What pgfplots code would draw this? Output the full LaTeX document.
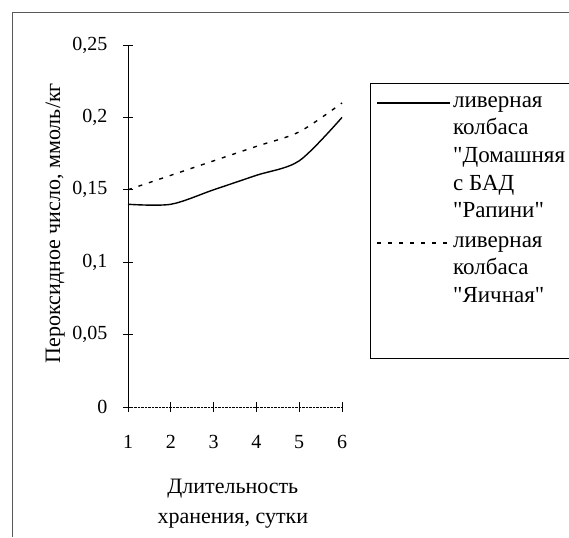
\documentclass[border=0pt]{standalone}
\usepackage{fontspec}
\setmainfont{Liberation Serif}[Ligatures=TeXOff]
\usepackage{pgfplots}
\pgfplotsset{compat=1.18}

\newcommand{\lgfont}{\fontsize{23}{27}\selectfont}

\begin{document}
\begin{tikzpicture}[x=1pt,y=1pt]
	\path[use as bounding box] (0,0) rectangle (569,537);
	\clip (0,0) rectangle (569,537);
	% outer frame (only left and top sides are visible in the scan)
	\draw[gray!70!black, line width=0.8pt] (12,0) -- (12,525) -- (580,525);
	\begin{axis}[
		at={(128pt,130pt)},
		anchor=south west,
		scale only axis,
		width=214pt,
		height=362pt,
		xmin=1, xmax=6,
		ymin=0, ymax=0.25,
		axis lines*=left,
		axis line style={-},
		x axis line style={densely dotted},
		xtick={1,2,3,4,5,6},
		ytick={0,0.05,0.1,0.15,0.2,0.25},
		yticklabels={0,{0,05},{0,1},{0,15},{0,2},{0,25}},
		tick align=center,
		major tick length=10pt,
		tick style={black, line width=0.8pt},
		/pgf/number format/assume math mode=true,
		every tick label/.append style={font=\fontsize{20}{22}\selectfont},
		xticklabel style={yshift=-20pt},
		yticklabel style={xshift=-12pt},
		xlabel={Длительность\\хранения, сутки},
		xlabel style={align=center, font=\fontsize{22}{30}\selectfont,
			at={(axis description cs:0.49,-0.19)}, anchor=north},
		ylabel={Пероксидное число, ммоль/кг},
		ylabel style={font=\fontsize{22}{24}\selectfont,
			at={(axis description cs:-0.34,0.508)}, anchor=center},
		clip=false,
		]

		\addplot[black, line width=1.4pt, smooth] coordinates {
			(1,0.14) (2,0.14) (3,0.15) (4,0.16) (5,0.17) (6,0.20)
		};

		\addplot[black, line width=1.4pt, smooth, dash pattern=on 4pt off 7pt] coordinates {
			(1,0.15) (2,0.16) (3,0.17) (4,0.18) (5,0.19) (6,0.21)
		};

	\end{axis}

	% legend box, running past the right edge as in the scan
	\draw[black, line width=0.8pt] (370,454) rectangle (600,179);
	\draw[black, line width=1.4pt] (377,434) -- (450,434);
	\draw[black, line width=1.4pt, dash pattern=on 4pt off 7pt] (377,294) -- (450,294);
	\foreach \yy/\txt in {429/ливерная, 402/колбаса, 374/"Домашняя, 346/с БАД, 319/"Рапини",
		289/ливерная, 262/колбаса, 234/"Яичная"}
		\node[anchor=base west, inner sep=0pt, font=\lgfont] at (453,\yy) {\txt};
\end{tikzpicture}
\end{document}
